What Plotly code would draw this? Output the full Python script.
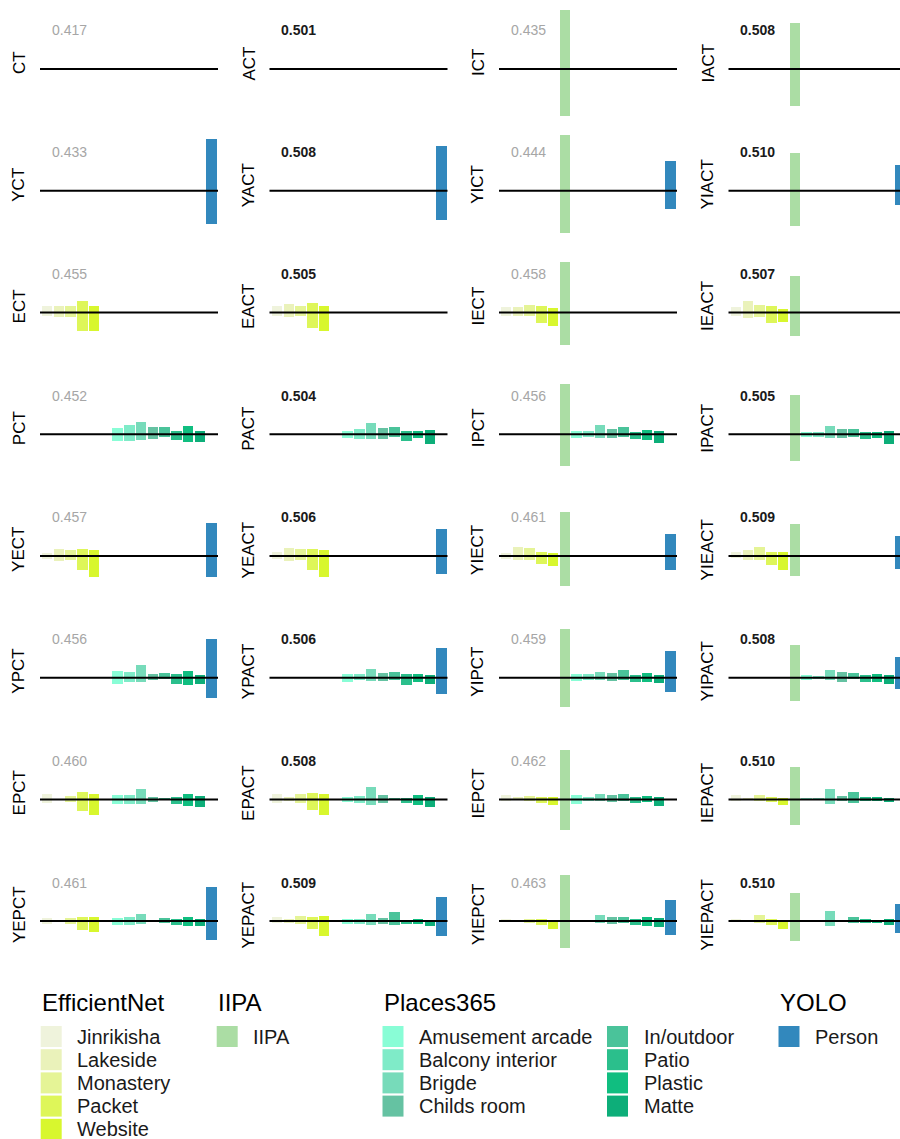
import plotly.graph_objects as go

# ---------------- data ----------------
CATEGORIES = ["Jinrikisha", "Lakeside", "Monastery", "Packet", "Website", "IIPA",
              "Amusement arcade", "Balcony interior", "Brigde", "Childs room",
              "In/outdoor", "Patio", "Plastic", "Matte", "Person"]
GROUPS = ["EfficientNet"] * 5 + ["IIPA"] + ["Places365"] * 8 + ["YOLO"]
COLORS = ["#EFF3DC", "#EAF2BA", "#E5F496", "#DEF659", "#D8F72E",
          "#ABDDA4",
          "#89FDD6", "#7FEBC8", "#77DBBA", "#65C2A2", "#4AC39A", "#2BBF8C", "#10BE80", "#0DAE79",
          "#3288BD"]

MODEL_GRID = [
    ["CT", "ACT", "ICT", "IACT"],
    ["YCT", "YACT", "YICT", "YIACT"],
    ["ECT", "EACT", "IECT", "IEACT"],
    ["PCT", "PACT", "IPCT", "IPACT"],
    ["YECT", "YEACT", "YIECT", "YIEACT"],
    ["YPCT", "YPACT", "YIPCT", "YIPACT"],
    ["EPCT", "EPACT", "IEPCT", "IEPACT"],
    ["YEPCT", "YEPACT", "YIEPCT", "YIEPACT"],
]
SCORE_GRID = [
    ["0.417", "0.501", "0.435", "0.508"],
    ["0.433", "0.508", "0.444", "0.510"],
    ["0.455", "0.505", "0.458", "0.507"],
    ["0.452", "0.504", "0.456", "0.505"],
    ["0.457", "0.506", "0.461", "0.509"],
    ["0.456", "0.506", "0.459", "0.508"],
    ["0.460", "0.508", "0.462", "0.510"],
    ["0.461", "0.509", "0.463", "0.510"],
]
BOLD_COLUMN = [False, True, False, True]

N = None
# upper / lower ends of each bar (x 1e-3), order as CATEGORIES
UPPER = {
    "CT":     [N, N, N, N, N, N, N, N, N, N, N, N, N, N, N],
    "ACT":    [N, N, N, N, N, N, N, N, N, N, N, N, N, N, N],
    "ICT":    [N, N, N, N, N, 59, N, N, N, N, N, N, N, N, N],
    "IACT":   [N, N, N, N, N, 46, N, N, N, N, N, N, N, N, N],
    "YCT":    [N, N, N, N, N, N, N, N, N, N, N, N, N, N, 51.7],
    "YACT":   [N, N, N, N, N, N, N, N, N, N, N, N, N, N, 44],
    "YICT":   [N, N, N, N, N, 55, N, N, N, N, N, N, N, N, 29.7],
    "YIACT":  [N, N, N, N, N, 37.7, N, N, N, N, N, N, N, N, 25],
    "ECT":    [6.3, 6.3, 6.3, 11.3, 6.3, N, N, N, N, N, N, N, N, N, N],
    "EACT":   [6.3, 8.3, 6.3, 9.3, 6.3, N, N, N, N, N, N, N, N, N, N],
    "IECT":   [5.3, 5.3, 7.3, 6.3, 4.3, 50.3, N, N, N, N, N, N, N, N, N],
    "IEACT":  [5.3, 11.3, 7.3, 6.3, 3.3, 36.3, N, N, N, N, N, N, N, N, N],
    "PCT":    [N, N, N, N, N, N, 6, 9.3, 12, 7, 7, 3, 8.3, 3, N],
    "PACT":   [N, N, N, N, N, N, 3, 5, 11, 6, 7, 3, 3, 4, N],
    "IPCT":   [N, N, N, N, N, 50, 3, 3, 9, 5, 7, 2, 4, 3, N],
    "IPACT":  [N, N, N, N, N, 39, 2, 2, 8, 5, 5, 2, 2, 3, N],
    "YECT":   [3.7, 7.7, 6.7, 7.7, 6.7, N, N, N, N, N, N, N, N, N, 33.7],
    "YEACT":  [4.7, 8.7, 7.7, 7.7, 6.7, N, N, N, N, N, N, N, N, N, 27.7],
    "YIECT":  [3.7, 9.7, 8.7, 4.7, 3.7, 44.7, N, N, N, N, N, N, N, N, 22.7],
    "YIEACT": [4.7, 6.7, 9.7, 4.7, 4.7, 32.7, N, N, N, N, N, N, N, N, 20.7],
    "YPCT":   [N, N, N, N, N, N, 6.7, 5.7, 12.7, 3.7, 4.7, 3.7, 6.7, 2.7, 38.7],
    "YPACT":  [N, N, N, N, N, N, 3.7, 3.7, 8.7, 4.7, 5.7, 3.7, 3.7, 2.7, 29.7],
    "YIPCT":  [N, N, N, N, N, 48.7, 3.7, 3.7, 5.7, 4.7, 7.7, 2.7, 4.7, 2.7, 26.7],
    "YIPACT": [N, N, N, N, N, 32.7, 2.7, 1.7, 7.7, 5.7, 4.7, 2.7, 3.7, 2.7, 20.7],
    "EPCT":   [5.3, N, 3.3, 7.3, 5.3, N, 4.3, 4.3, 10.3, 2.3, 1.3, 2.3, 5.3, 3.3, N],
    "EPACT":  [5.3, 2.3, 5.3, 6.3, 5.3, N, 2.3, 3.3, 12.3, 4.3, 1.3, 1.3, 4.3, 2.3, N],
    "IEPCT":  [4, 2, 3, 2, 2, 49, 4, 2, 5, 4, 5, 2, 3, 2, N],
    "IEPACT": [4, 1, 4, 2, 1, 32, 1, 1, 10, 3, 7, 2, 2, 1, N],
    "YEPCT":  [3, N, 3, 4, 4, N, 3, 4, 7, N, 3, 2, 4, 2, 34],
    "YEPACT": [4, 2, 5, 4, 5, N, 2, 2, 7, 3, 9, 1, 2, 0, 24],
    "YIEPCT": [2, 1, 2, 2, 1, 46, 1, 1, 6, 4, 4, 2, 4, 3, 21],
    "YIEPACT": [2, 1, 6, 2, 1, 28, 1, 1, 10, 1, 4, 2, 1, 2, 17],
}
LOWER = {
    "CT":     [N, N, N, N, N, N, N, N, N, N, N, N, N, N, N],
    "ACT":    [N, N, N, N, N, N, N, N, N, N, N, N, N, N, N],
    "ICT":    [N, N, N, N, N, -46.7, N, N, N, N, N, N, N, N, N],
    "IACT":   [N, N, N, N, N, -36.7, N, N, N, N, N, N, N, N, N],
    "YCT":    [N, N, N, N, N, N, N, N, N, N, N, N, N, N, -34],
    "YACT":   [N, N, N, N, N, N, N, N, N, N, N, N, N, N, -29.3],
    "YICT":   [N, N, N, N, N, -43, N, N, N, N, N, N, N, N, -18.3],
    "YIACT":  [N, N, N, N, N, -36, N, N, N, N, N, N, N, N, -15],
    "ECT":    [-3.3, -4.3, -4.3, -18.3, -18.3, N, N, N, N, N, N, N, N, N, N],
    "EACT":   [-3.3, -4.3, -3.3, -15.3, -18.3, N, N, N, N, N, N, N, N, N, N],
    "IECT":   [-3.3, -3.3, -3.3, -11, -13.3, -32.3, N, N, N, N, N, N, N, N, N],
    "IEACT":  [-3.3, -5.3, -4.3, -10.3, -9.3, -23.3, N, N, N, N, N, N, N, N, N],
    "PCT":    [N, N, N, N, N, N, -6.7, -6.7, -5.7, -4.7, -2.7, -5.7, -7.7, -7.7, N],
    "PACT":   [N, N, N, N, N, N, -3.7, -4.7, -4.7, -4.7, -2.7, -6.7, -3.7, -9.7, N],
    "IPCT":   [N, N, N, N, N, -31.7, -3.7, -2.7, -3.7, -3.7, -2.7, -4.7, -5.7, -8.7, N],
    "IPACT":  [N, N, N, N, N, -26.7, -2.7, -2.7, -3.7, -3.7, -2.7, -4.7, -3.7, -9.7, N],
    "YECT":   [-3, -5, -4, -14, -21, N, N, N, N, N, N, N, N, N, -21],
    "YEACT":  [-3, -5, -4, -14, -21, N, N, N, N, N, N, N, N, N, -18],
    "YIECT":  [-3, -4, -4, -8, -10, -30, N, N, N, N, N, N, N, N, -14],
    "YIEACT": [-2, -4, -4, -9, -14, -20, N, N, N, N, N, N, N, N, -13],
    "YPCT":   [N, N, N, N, N, N, -7, -5, -5, -3, -2, -7, -8, -7, -21],
    "YPACT":  [N, N, N, N, N, N, -5, -3, -4, -4, -3, -8, -5, -7, -17],
    "YIPCT":  [N, N, N, N, N, -30, -4, -3, -3, -4, -3, -5, -5, -6, -15],
    "YIPACT": [N, N, N, N, N, -24, -3, -2, -3, -5, -2, -5, -5, -7, -12],
    "EPCT":   [-3.3, N, -2.3, -11.3, -15.3, N, -4.3, -4.3, -4.3, -2.3, -0.3, -4.3, -6.3, -7.3, N],
    "EPACT":  [-3.3, -1.3, -3.3, -10.3, -15.3, N, -2.3, -3.3, -5.3, -3.3, -0.3, -3.3, -5.3, -7.3, N],
    "IEPCT":  [-2, -1, -2, -4, -6, -31, -5, -2, -2, -3, -2, -4, -3, -7, N],
    "IEPACT": [-2, -1, -2, -3, -6, -26, -1, -1, -5, -2, -4, -2, -2, -3, N],
    "YEPCT":  [-2.7, N, -2.7, -8.7, -10.7, N, -3.7, -3.7, -2.7, N, -1.7, -3.7, -4.7, -4.7, -18.7],
    "YEPACT": [-1.7, -1.7, -2.7, -7.7, -14.7, N, -2.7, -2.7, -3.7, -2.7, -3.7, -2.7, -2.7, -4.7, -14.7],
    "YIEPCT": [-1, -1, -2, -4, -8, -27, -1, -1, -2, -3, -2, -4, -5, -6, -14],
    "YIEPACT": [-1, -1, -2, -4, -8, -20, -1, -1, -5, -1, -2, -2, -2, -4, -12],
}

# ---------------- layout geometry (pixels) ----------------
W, H = 900, 1139
FONT = "Liberation Sans, Arial, Helvetica, sans-serif"
COL_LEFT = [40, 269.5, 499, 728.5]
PANEL_W = 178
UNIT_PX = 11.75
ZERO_Y0, ROW_STEP = 69, 121.73
Y_TOP, Y_BOT = 64.3, 52.0      # panel extent above / below the zero line (data units = px)


def px_x(x):
    return x / W


def px_y(y):
    return 1 - y / H


fig = go.Figure()
layout = dict(
    width=W, height=H, margin=dict(l=0, r=0, t=0, b=0),
    paper_bgcolor="white", plot_bgcolor="white",
    showlegend=False, font=dict(family=FONT, color="black"),
    bargap=0,
)
shapes, annotations = [], []

n = 0
for r, row in enumerate(MODEL_GRID):
    zero = ZERO_Y0 + r * ROW_STEP
    for c, model in enumerate(row):
        n += 1
        xa = "x" if n == 1 else f"x{n}"
        ya = "y" if n == 1 else f"y{n}"
        left = COL_LEFT[c]
        right = min(left + PANEL_W, W)
        x_lo = -0.6
        x_hi = x_lo + (right - left) / UNIT_PX
        layout["xaxis" if n == 1 else f"xaxis{n}"] = dict(
            domain=[px_x(left), px_x(right)], anchor=ya, type="category",
            categoryorder="array", categoryarray=CATEGORIES,
            range=[x_lo, x_hi], visible=False, fixedrange=True)
        layout["yaxis" if n == 1 else f"yaxis{n}"] = dict(
            domain=[px_y(zero + Y_BOT), px_y(zero - Y_TOP)], anchor=xa,
            range=[-Y_BOT, Y_TOP], visible=False, fixedrange=True)

        xs, hs, bs, cs, ts = [], [], [], [], []
        for i, cat in enumerate(CATEGORIES):
            hi, lo = UPPER[model][i], LOWER[model][i]
            if hi is None or lo is None:
                continue
            xs.append(cat)
            hs.append(hi - lo)
            bs.append(lo)
            cs.append(COLORS[i])
            ts.append(GROUPS[i])
        fig.add_trace(go.Bar(
            x=xs, y=hs, base=bs, marker=dict(color=cs, line=dict(width=0)),
            width=0.9, xaxis=xa, yaxis=ya, customdata=ts, name=model,
            hovertemplate="%{x}<extra>" + model + "</extra>"))

        shapes.append(dict(type="line", xref=f"{xa} domain", yref=ya,
                           x0=0, x1=1, y0=0, y1=0, layer="above",
                           line=dict(color="black", width=2)))
        bold = BOLD_COLUMN[c]
        score = SCORE_GRID[r][c]
        annotations.append(dict(
            xref=f"{xa} domain", yref=ya, x=0.055, y=38.5,
            xanchor="left", yanchor="middle", showarrow=False,
            text=f"<b>{score}</b>" if bold else score,
            font=dict(size=14, family=FONT, color="#1a1a1a" if bold else "#a6a6a6")))
        annotations.append(dict(
            xref="paper", yref="paper", x=px_x(left - 21), y=px_y(zero - 6),
            xanchor="center", yanchor="middle", showarrow=False, textangle=-90,
            text=model, font=dict(size=17, family=FONT, color="black")))

# ---------------- legend (drawn in paper space) ----------------
LEGEND_COLUMNS = [
    ("EfficientNet", 40.7, [0, 1, 2, 3, 4]),
    ("IIPA", 216.7, [5]),
    ("Places365", 382.5, [6, 7, 8, 9]),
    (None, 607, [10, 11, 12, 13]),
    ("YOLO", 778.5, [14]),
]
SW = 21
SW_TOP0, SW_STEP = 1026, 23.2
for title, x0, idxs in LEGEND_COLUMNS:
    if title:
        annotations.append(dict(
            xref="paper", yref="paper", x=px_x(x0 - 1), y=px_y(1002),
            xanchor="left", yanchor="middle", showarrow=False, text=title,
            font=dict(size=24, family=FONT, color="black")))
    for k, i in enumerate(idxs):
        top = SW_TOP0 + k * SW_STEP
        shapes.append(dict(type="rect", xref="paper", yref="paper",
                           x0=px_x(x0), x1=px_x(x0 + SW),
                           y0=px_y(top + SW), y1=px_y(top),
                           fillcolor=COLORS[i], line=dict(width=0)))
        annotations.append(dict(
            xref="paper", yref="paper", x=px_x(x0 + 34.5), y=px_y(top + SW / 2),
            xanchor="left", yanchor="middle", showarrow=False, text=CATEGORIES[i],
            font=dict(size=20, family=FONT, color="#1a1a1a")))

layout["shapes"] = shapes
layout["annotations"] = annotations
fig.update_layout(**layout)
fig.write_html("out.html")
